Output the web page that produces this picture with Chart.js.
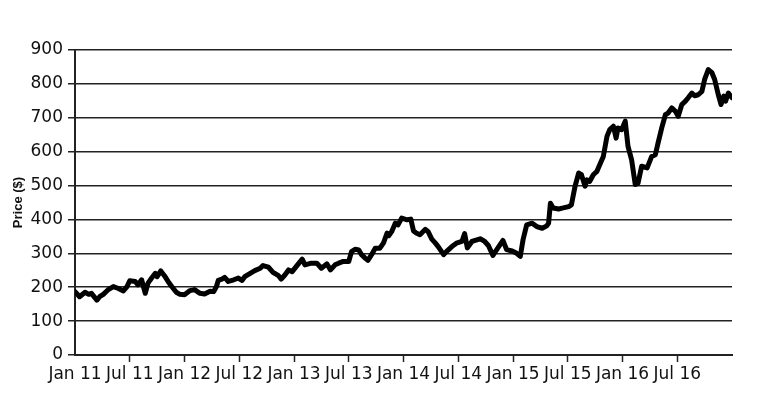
<!DOCTYPE html>
<html lang="en">
<head>
    <meta charset="UTF-8">
    <title>Price</title>
    <script src="https://cdn.jsdelivr.net/npm/chart.js"></script>
    <style>
        body {
            margin: 0;
            background-color: #ffffff;
        }
        #wrap {
            width: 781px;
            height: 404px;
        }
    </style>
</head>
<body>
    <div id="wrap">
        <canvas id="price-chart" width="781" height="404"></canvas>
    </div>

    <script>
        // months since Jan 2011
        const months = [
            0, 0.5, 1.1, 1.5, 1.8, 2.4, 2.7, 3.1, 3.6, 4.2,
            4.7, 5.3, 5.7, 6.0, 6.6, 6.9, 7.3, 7.7, 8.0, 8.4,
            8.8, 9.0, 9.4, 9.8, 10.2, 10.6, 11.1, 11.5, 12.0, 12.6,
            13.1, 13.7, 14.2, 14.8, 15.2, 15.5, 15.7, 16.1, 16.4, 16.8,
            17.4, 17.9, 18.3, 18.6, 19.2, 19.7, 20.3, 20.6, 21.2, 21.7,
            22.3, 22.6, 23.0, 23.4, 23.8, 24.3, 24.9, 25.2, 25.9, 26.5,
            27.0, 27.6, 28.0, 28.5, 28.9, 29.4, 30.0, 30.3, 30.7, 31.1,
            31.4, 31.8, 32.1, 32.5, 32.9, 33.4, 33.8, 34.2, 34.4, 34.7,
            35.1, 35.4, 35.8, 36.4, 36.8, 37.1, 37.4, 37.8, 38.4, 38.7,
            39.1, 39.5, 39.8, 40.4, 40.7, 41.3, 41.8, 42.4, 42.7, 43.0,
            43.5, 44.4, 44.9, 45.3, 45.8, 46.2, 46.9, 47.3, 47.9, 48.4,
            48.8, 49.1, 49.5, 50.1, 50.6, 51.2, 51.7, 51.9, 52.1, 52.4,
            53.0, 53.5, 54.1, 54.4, 54.8, 55.2, 55.5, 55.9, 56.1, 56.4,
            56.8, 57.2, 57.6, 57.9, 58.3, 58.6, 59.0, 59.3, 59.5, 59.9,
            60.3, 60.6, 61.0, 61.4, 61.7, 62.1, 62.7, 63.2, 63.6, 63.9,
            64.3, 64.7, 65.0, 65.4, 65.8, 66.1, 66.5, 66.9, 67.2, 67.6,
            67.9, 68.3, 68.7, 69.0, 69.4, 69.8, 70.1, 70.5, 70.8, 71.1,
            71.3, 71.6, 72.0
        ];

        const prices = [
            187, 172, 185, 179, 182, 162, 172, 179, 192, 202,
            197, 189, 202, 219, 217, 207, 222, 182, 212, 227,
            241, 231, 248, 234, 217, 202, 185, 179, 178, 190,
            193, 182, 180, 188, 187, 202, 220, 224, 229, 217,
            222, 227, 220, 231, 241, 249, 256, 264, 259, 244,
            234, 224, 236, 251, 246, 263, 283, 266, 271, 271,
            256, 269, 251, 266, 271, 276, 276, 305, 312, 310,
            296, 286, 279, 296, 315, 315, 330, 360, 352, 364,
            389, 384, 404, 399, 401, 366, 360, 355, 371, 364,
            342, 330, 320, 296, 305, 320, 330, 335, 358, 316,
            335, 343, 335, 323, 294, 310, 338, 311, 307, 300,
            291, 340, 384, 389, 379, 374, 381, 389, 448, 434,
            431, 434, 438, 443, 498, 537, 532, 498, 517, 512,
            532, 542, 567, 586, 645, 665, 675, 640, 670, 665,
            690, 616, 576, 503, 507, 557, 552, 586, 591, 626,
            670, 709, 714, 729, 719, 704, 739, 749, 759, 773,
            765, 768, 778, 813, 842, 833, 813, 768, 739, 764,
            749, 773, 759
        ];

        // one label every 6 months
        const tickLabels = ['Jan 11', 'Jul 11', 'Jan 12', 'Jul 12', 'Jan 13', 'Jul 13',
                            'Jan 14', 'Jul 14', 'Jan 15', 'Jul 15', 'Jan 16', 'Jul 16'];

        const points = months.map((m, i) => ({ x: m, y: prices[i] }));
        const font = { family: 'DejaVu Sans', size: 17 };

        new Chart(document.getElementById('price-chart'), {
            type: 'line',
            data: {
                datasets: [{
                    data: points,
                    borderColor: '#000000',
                    borderWidth: 5,
                    borderJoinStyle: 'round',
                    borderCapStyle: 'round',
                    pointRadius: 0,
                    tension: 0
                }]
            },
            options: {
                responsive: false,
                animation: false,
                layout: {
                    padding: { top: 50, right: 49, left: 0, bottom: 0 }
                },
                plugins: {
                    legend: { display: false },
                    tooltip: { enabled: false }
                },
                scales: {
                    x: {
                        type: 'linear',
                        min: 0,
                        max: 72,
                        afterFit: s => { s.height = 49; },
                        afterBuildTicks: s => {
                            s.ticks = tickLabels.map((_, i) => ({ value: i * 6 }));
                        },
                        ticks: {
                            autoSkip: false,
                            maxRotation: 0,
                            color: '#111',
                            font: font,
                            padding: 2,
                            callback: v => tickLabels[v / 6]
                        },
                        grid: {
                            drawOnChartArea: false,
                            drawTicks: true,
                            tickLength: 7,
                            tickWidth: 1.5,
                            tickColor: ctx => ctx.tick && ctx.tick.value === 0 ? 'transparent' : '#222'
                        },
                        border: { display: true, color: '#222', width: 2 }
                    },
                    y: {
                        min: 0,
                        max: 900,
                        afterFit: s => { s.width = 75; },
                        ticks: {
                            stepSize: 100,
                            color: '#111',
                            font: font,
                            padding: 5
                        },
                        title: {
                            display: true,
                            text: 'Price ($)',
                            color: '#111',
                            font: { family: 'Liberation Sans', size: 13, weight: 'bold' },
                            padding: { top: 11, bottom: 0 }
                        },
                        grid: {
                            color: '#222',
                            lineWidth: 1.5,
                            tickLength: 7,
                            tickColor: '#222'
                        },
                        border: { display: true, color: '#222', width: 2 }
                    }
                }
            }
        });
    </script>
</body>
</html>
